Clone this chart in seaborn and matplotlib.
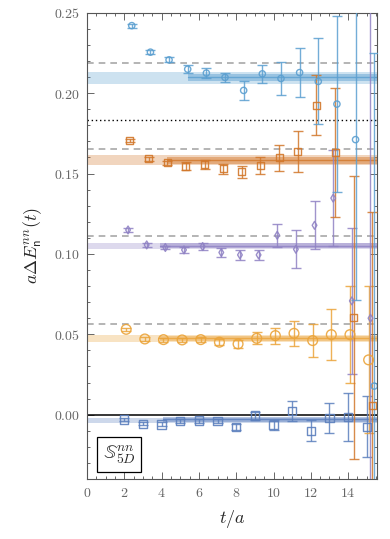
import numpy as np
import pandas as pd
import matplotlib
matplotlib.use("Agg")
import matplotlib.pyplot as plt
import seaborn as sns
from matplotlib.ticker import MultipleLocator, FuncFormatter

sns.set_theme(style="ticks")
plt.rcParams["font.family"] = ["DejaVu Serif"]
plt.rcParams["mathtext.fontset"] = "cm"

# ---------------- data ----------------
t = np.arange(2, 16)
offsets = [0.0, 0.1, 0.2, 0.3, 0.4]

E0 = [-0.0029, -0.0056, -0.0060, -0.0039, -0.0037, -0.0039, -0.0078, -0.0006,
      -0.0064, 0.0021, -0.0101, -0.0021, -0.0014, -0.0076]
dE0 = [0.001, 0.001, 0.0012, 0.0012, 0.0013, 0.0015, 0.002, 0.0025,
       0.0033, 0.0062, 0.0065, 0.0095, 0.0148, 0.019]
E1 = [0.0531, 0.0471, 0.0467, 0.0465, 0.0467, 0.0451, 0.0440, 0.0475,
      0.0492, 0.0506, 0.0461, 0.0498, 0.0498, 0.0341]
dE1 = [0.001, 0.001, 0.0012, 0.0015, 0.0015, 0.002, 0.0025, 0.0038,
       0.005, 0.0078, 0.0103, 0.016, 0.030, 0.0457]
E2 = [0.1149, 0.1056, 0.1040, 0.1025, 0.1046, 0.1009, 0.0994, 0.0994,
      0.1116, 0.1029, 0.1178, 0.1347, 0.0708, 0.06]
dE2 = [0.001, 0.001, 0.0012, 0.002, 0.002, 0.0025, 0.003, 0.003,
       0.0072, 0.0117, 0.015, 0.030, 0.0455, 0.30]
E3 = [0.1707, 0.1591, 0.1566, 0.1546, 0.1556, 0.1529, 0.1510, 0.1550,
      0.1597, 0.1637, 0.1926, 0.1629, 0.0606, 0.0058]
dE3 = [0.001, 0.0012, 0.0015, 0.0025, 0.0027, 0.003, 0.004, 0.005,
       0.008, 0.0126, 0.0187, 0.040, 0.088, 0.12]
E4 = [0.2420, 0.2255, 0.2207, 0.2149, 0.2125, 0.2098, 0.2017, 0.2120,
      0.2091, 0.2128, 0.2073, 0.1932, 0.1711, 0.0178]
dE4 = [0.0012, 0.0012, 0.0015, 0.0025, 0.003, 0.003, 0.0057, 0.0057,
       0.0104, 0.015, 0.0267, 0.0545, 0.100, 0.207]

values = [E0, E1, E2, E3, E4]
errors = [dE0, dE1, dE2, dE3, dE4]

# fit results: wide band (centre, half width), fit band (start, centre, half width)
wide_c = [-0.0038, 0.0473, 0.1050, 0.1584, 0.2096]
wide_w = [0.0015, 0.0020, 0.0021, 0.0030, 0.0038]
fit_start = [4.1, 3.9, 3.9, 4.3, 5.4]
fit_c = [-0.0028, 0.0474, 0.1050, 0.1582, 0.2098]
fit_w = [0.0016, 0.0016, 0.0016, 0.0020, 0.0020]

free_levels = [0.0562, 0.1112, 0.1655, 0.2187]
threshold = 0.1836

colors = ["#5b7fbd", "#eba43a", "#8f82c4", "#d2772a", "#5b9fd0"]
markers = ["s", "o", "d", "s", "o"]
msizes = [6, 7, 4, 5, 4.5]

XMAX = 15.55

# ---------------- figure ----------------
fig = plt.figure(figsize=(3.9, 5.39), dpi=100)
ax = fig.add_axes([0.2231, 0.1113, 0.7436, 0.865])

for c, w, col in zip(wide_c, wide_w, colors):
    ax.fill_between([0, XMAX], c - w, c + w, color=col, alpha=0.3, lw=0, zorder=1)
for s, c, w, col in zip(fit_start, fit_c, fit_w, colors):
    ax.fill_between([s, XMAX], c - w, c + w, color=col, alpha=0.45, lw=0, zorder=2)
    sns.lineplot(x=[s, XMAX], y=[c, c], color=col, lw=1.0, alpha=0.8, ax=ax, zorder=3)

for lv in free_levels:
    ax.axhline(lv, color="#a8a8a8", ls=(0, (4, 3)), lw=1.2, zorder=1.5)
ax.axhline(threshold, color="black", ls=(0, (1, 2)), lw=1.0, zorder=1.5)
ax.axhline(0.0, color="black", lw=1.1, zorder=1.5)

for n in range(5):
    df = pd.DataFrame({"t": t + offsets[n], "E": values[n], "dE": errors[n]})
    ax.errorbar(df["t"], df["E"], yerr=df["dE"], fmt="none", ecolor=colors[n],
                elinewidth=1.0, capsize=3.6, capthick=1.0, alpha=0.85, zorder=4)
    sns.scatterplot(data=df, x="t", y="E", marker=markers[n], s=msizes[n] ** 2,
                    facecolor="none", edgecolor=colors[n], linewidth=1.0,
                    alpha=0.9, ax=ax, zorder=5, legend=False)

ax.set_xlim(0, XMAX)
ax.set_ylim(-0.04, 0.25)
ax.xaxis.set_major_locator(MultipleLocator(2))
ax.xaxis.set_minor_locator(MultipleLocator(0.5))
ax.yaxis.set_major_locator(MultipleLocator(0.05))
ax.yaxis.set_minor_locator(MultipleLocator(0.01))
ax.xaxis.set_major_formatter(FuncFormatter(lambda v, p: r"$%d$" % round(v)))
ax.yaxis.set_major_formatter(FuncFormatter(lambda v, p: r"$%.2f$" % v))
ax.tick_params(which="both", direction="in", top=True, right=True, color="#666666",
               labelcolor="#666666", labelsize=10, width=0.7)
ax.tick_params(which="major", length=5, pad=5)
ax.tick_params(which="minor", length=2.5)
for sp in ax.spines.values():
    sp.set_color("#555555")
    sp.set_linewidth(0.8)

ax.set_xlabel(r"$t/a$", fontsize=13, labelpad=6)
ax.set_ylabel(r"$a\Delta E^{nn}_{\mathsf{n}}(t)$", fontsize=13, labelpad=7)

ax.text(0.054, 0.028, r"$\mathbb{S}^{nn}_{5D}$", transform=ax.transAxes, fontsize=14,
        ha="left", va="bottom",
        bbox=dict(boxstyle="square,pad=0.3", fc="white", ec="black", lw=0.9), zorder=6)

fig.savefig("out.png", dpi=100)
